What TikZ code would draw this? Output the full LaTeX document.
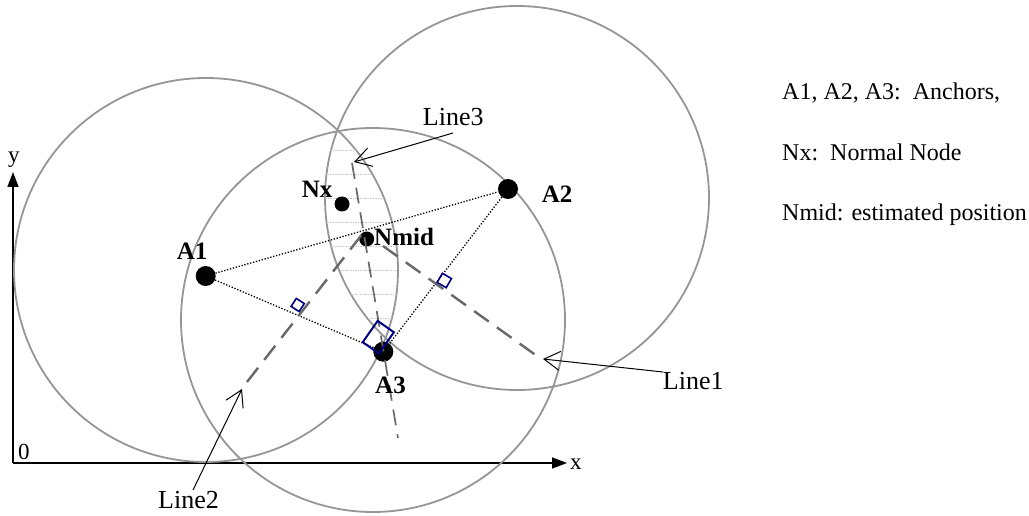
\documentclass[tikz,border=0pt]{standalone}
\usepackage{fontspec}
\setmainfont{Liberation Serif}
\usetikzlibrary{arrows.meta}
\definecolor{ringgray}{RGB}{150,150,150}
\definecolor{dashgray}{RGB}{105,105,105}
\definecolor{hatchgray}{RGB}{200,200,200}
\definecolor{mknavy}{RGB}{0,0,128}
\begin{document}
\begin{tikzpicture}[x=1pt,y=-1pt,
  ring/.style={draw=ringgray,line width=1.8pt},
  hatchline/.style={draw=hatchgray,line width=0.9pt,dash pattern=on 1.5pt off 1pt},
  bigdot/.style={circle,fill=black,inner sep=0pt,minimum size=20pt},
  smalldot/.style={circle,fill=black,inner sep=0pt,minimum size=15pt},
  dotline/.style={draw=black,line width=1.3pt,dash pattern=on 1.3pt off 1.7pt},
  bisect/.style={draw=dashgray,line width=2.4pt,dash pattern=on 18pt off 10pt},
  bisectthin/.style={draw=dashgray,line width=1.7pt,dash pattern=on 16pt off 9pt},
  marksq/.style={draw=mknavy,line width=1.6pt,inner sep=0pt,minimum size=10pt},
  callout/.style={draw=black,line width=1pt,-{Straight Barb[length=16pt,width=19pt]}},
  axis/.style={draw=black,line width=1.4pt,-{Triangle[length=15pt,width=11pt]}},
  boldlab/.style={inner sep=0pt,anchor=base west,font=\fontsize{25}{30}\selectfont\bfseries},
  plainlab/.style={inner sep=0pt,anchor=base west,font=\fontsize{26}{31}\selectfont},
  legend/.style={inner sep=0pt,anchor=base west,font=\fontsize{24}{29}\selectfont},
  axislab/.style={inner sep=0pt,anchor=base west,font=\fontsize{23}{28}\selectfont}]
\useasboundingbox (0,0) rectangle (1029,516);
\fill[white] (0,0) rectangle (1029,516);

% axes
\coordinate (O) at (13,463);
\coordinate (Xe) at (567,463);
\coordinate (Ye) at (13,172);
\draw[axis] (O) -- (Xe);
\draw[axis] (O) -- (Ye);
\node[axislab] (lab0) at (18,459.3) {0};
\node[axislab] (labx) at (570,469.3) {x};
\node[axislab] (laby) at (8,162.3) {y};

% range circles
\draw[ring] (206,270) circle[radius=192pt];
\draw[ring] (517,198) circle[radius=192pt];
\draw[ring] (373,320) circle[radius=192pt];

% hatched overlap region
\begin{scope}
  \clip (206,270) circle[radius=192pt];
  \clip (517,198) circle[radius=192pt];
  \foreach \yy in {150,174,...,318} \draw[hatchline] (300,\yy) -- (420,\yy);
\end{scope}

% nodes
\node[bigdot] (A1) at (205.7,276) {};
\node[bigdot] (A2) at (508,189) {};
\node[bigdot] (A3) at (383.3,351.7) {};
\node[smalldot] (Nx) at (342,204) {};
\node[smalldot] (Nmid) at (366.7,239) {};

% triangle of anchors
\draw[dotline] (A1) -- (A2);
\draw[dotline] (A1) -- (A3);
\draw[dotline] (A2) -- (A3);

% bisector lines
\coordinate (L1a) at (383,246);
\coordinate (L1b) at (537,356);
\coordinate (L2a) at (247,382);
\coordinate (L2b) at (367,228);
\coordinate (L3a) at (352,163);
\coordinate (L3b) at (398,438);
\draw[bisect] (L1a) -- (L1b);
\draw[bisect] (L2a) -- (L2b);
\draw[bisectthin] (L3a) -- (L3b);

% right-angle markers
\node[marksq,rotate=-33,minimum size=9.5pt] (S2) at (297.7,305) {};
\node[marksq,rotate=-30,minimum size=10.5pt] (S1) at (444.3,280.5) {};
\node[marksq,rotate=-35,minimum width=19.8pt,minimum height=26pt,line width=2pt] (S3) at (378.3,337.2) {};

% labels
\node[boldlab] (tA1) at (176.7,259.3) {A1};
\node[boldlab] (tA2) at (541.7,202.7) {A2};
\node[boldlab] (tA3) at (375,393.3) {A3};
\node[boldlab] (tNx) at (301.7,197.3) {Nx};
\node[boldlab] (tNmid) at (374,245) {Nmid};

% line callouts
\node[plainlab] (tL3) at (422.7,126) {Line3};
\node[plainlab] (tL1) at (662.7,389) {Line1};
\node[plainlab] (tL2) at (158,508.7) {Line2};
\coordinate (c3a) at (453,133);
\coordinate (c3b) at (354,162);
\coordinate (c1a) at (663,372);
\coordinate (c1b) at (543,359);
\coordinate (c2a) at (193,490);
\coordinate (c2b) at (242,389);
\draw[callout] (c3a) -- (c3b);
\draw[callout] (c1a) -- (c1b);
\draw[callout] (c2a) -- (c2b);

% legend
\node[legend] (lg1) at (782,100) {A1, A2, A3:\ \ Anchors,};
\node[legend] (lg2) at (782,161) {Nx:\ \ Normal Node};
\node[legend] (lg3) at (782,221) {Nmid: estimated position};
\end{tikzpicture}
\end{document}
